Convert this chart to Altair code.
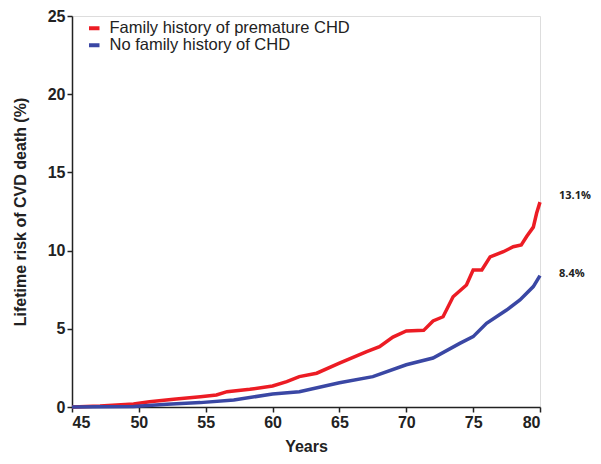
import altair as alt
import pandas as pd

# Family history of premature CHD (red)
fam_years = [45, 47.1, 49.6, 50.8, 52.6, 54.6, 55.8, 56.6, 58.3, 60, 61.06, 62, 63.3, 65, 67.04, 68.0, 69.0, 70, 71.3, 72.0, 72.75, 73.5, 74.5, 75, 75.65, 76.27, 77.26, 78.0, 78.6, 79.0, 79.5, 79.75, 80]
fam_risk = [0, 0.06, 0.19, 0.34, 0.49, 0.66, 0.77, 0.98, 1.13, 1.34, 1.62, 1.94, 2.16, 2.8, 3.54, 3.86, 4.47, 4.86, 4.9, 5.5, 5.77, 7.05, 7.8, 8.76, 8.76, 9.6, 9.93, 10.25, 10.36, 10.9, 11.5, 12.4, 13.1]

# No family history of CHD (blue)
no_years = [45, 47.1, 49.6, 52.1, 54.6, 57.1, 60, 62, 65, 67.5, 70, 72.0, 74.0, 75, 76.0, 77.5, 78.5, 79.5, 80]
no_risk = [0, 0.01, 0.03, 0.17, 0.28, 0.45, 0.83, 0.98, 1.55, 1.94, 2.7, 3.13, 4.07, 4.5, 5.35, 6.2, 6.84, 7.7, 8.4]

series_names = ["Family history of premature CHD", "No family history of CHD"]
series_colors = ["#ec1c24", "#3a47a4"]

end_labels = ["13.1%", "8.4%"]
end_values = [13.1, 8.4]

rows = []
for i, (x, y) in enumerate(zip(fam_years, fam_risk)):
    rows.append({"Years": x, "Risk": y, "Group": series_names[0], "order": i})
for i, (x, y) in enumerate(zip(no_years, no_risk)):
    rows.append({"Years": x, "Risk": y, "Group": series_names[1], "order": i})
df = pd.DataFrame(rows)

lab_df = pd.DataFrame({"Years": [80, 80], "Risk": end_values, "label": end_labels})

x_scale = alt.Scale(domain=[45, 80], nice=False, zero=False)
y_scale = alt.Scale(domain=[0, 25], nice=False)

lines = alt.Chart(df).mark_line(strokeWidth=3.5).encode(
    x=alt.X("Years:Q", scale=x_scale,
            axis=alt.Axis(values=[45, 50, 55, 60, 65, 70, 75, 80], title="Years", grid=False,
                          labelFont="Liberation Sans", labelFontSize=16, labelFontWeight="bold",
                          labelColor="#222", titleFont="Liberation Sans", titleFontSize=16,
                          titleFontWeight="bold", titleColor="#222", domainColor="#222",
                          domainWidth=1.5, tickColor="#222", tickWidth=1.5, tickSize=5,
                          titlePadding=8, labelPadding=2)),
    y=alt.Y("Risk:Q", scale=y_scale,
            axis=alt.Axis(values=[0, 5, 10, 15, 20, 25], title="Lifetime risk of CVD death (%)",
                          grid=False, labelFont="Liberation Sans", labelFontSize=16,
                          labelFontWeight="bold", labelColor="#222", titleFont="Liberation Sans",
                          titleFontSize=16, titleFontWeight="bold", titleColor="#222",
                          domainColor="#222", domainWidth=1.5, tickColor="#222", tickWidth=1.5,
                          tickSize=5, titlePadding=19, labelPadding=2)),
    color=alt.Color("Group:N", scale=alt.Scale(domain=series_names, range=series_colors),
                    legend=alt.Legend(title=None, orient="none", legendX=14, legendY=4,
                                      symbolType="stroke", symbolStrokeWidth=4, symbolSize=110,
                                      labelFont="Liberation Sans", labelFontSize=16.5, labelLimit=500,
                                      labelColor="#222", rowPadding=-4, symbolOffset=0,
                                      labelOffset=7)),
    order="order:Q",
)

lab_top = alt.Chart(lab_df).transform_filter(alt.datum.label == end_labels[0]).mark_text(
    align="left", dx=19, dy=-6, font="Open Sans", fontSize=11, fontWeight="bold", color="#222"
).encode(
    x=alt.X("Years:Q", scale=x_scale),
    y=alt.Y("Risk:Q", scale=y_scale),
    text="label:N",
)
lab_bot = alt.Chart(lab_df).transform_filter(alt.datum.label == end_labels[1]).mark_text(
    align="left", dx=19, dy=-2, font="Open Sans", fontSize=11, fontWeight="bold", color="#222"
).encode(
    x=alt.X("Years:Q", scale=x_scale),
    y=alt.Y("Risk:Q", scale=y_scale),
    text="label:N",
)

chart = (lines + lab_top + lab_bot).properties(
    width=468, height=391,
    autosize=alt.AutoSizeParams(type="none"),
    padding={"left": 64, "top": 8, "right": 53, "bottom": 48},
).configure_view(stroke=None).configure(background="white")

chart.save("out.html", embed_options={"renderer": "svg", "actions": False})
